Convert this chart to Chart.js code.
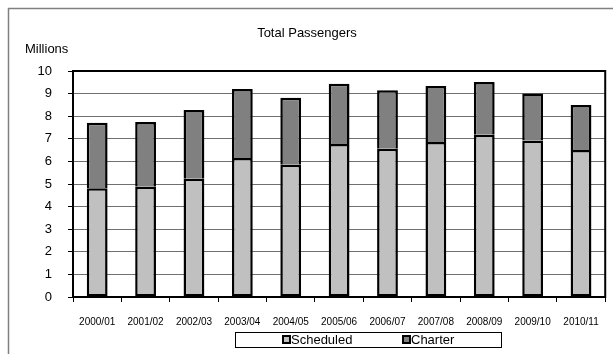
<!DOCTYPE html>
<html>
<head>
<meta charset="utf-8">
<script src="https://cdn.jsdelivr.net/npm/chart.js@4/dist/chart.umd.min.js"></script>
<style>
  html, body { margin: 0; padding: 0; background: #fff; }
  #wrap { position: relative; width: 613px; height: 354px; overflow: hidden; }
  #legend {
    position: absolute; left: 235px; top: 332px; width: 265px; height: 14px;
    border: 1px solid #000; box-sizing: content-box;
    font: 13px "Liberation Sans", Arial, sans-serif; color: #000;
  }
  #legend span.item { position: absolute; top: -1px; line-height: 15px; }
  #legend span.box {
    display: inline-block; width: 5px; height: 5px; border: 2px solid #000;
    vertical-align: 0px; margin-right: 0px;
  }
</style>
</head>
<body>
<div id="wrap">
  <canvas id="myChart" width="613" height="354"></canvas>
  <div id="legend"></div>
</div>
<script>
const labels = ['2000/01', '2001/02', '2002/03', '2003/04', '2004/05', '2005/06',
                '2006/07', '2007/08', '2008/09', '2009/10', '2010/11'];
const scheduled = [4.81, 4.88, 5.23, 6.15, 5.85, 6.77, 6.56, 6.86, 7.18, 6.92, 6.50];
const charter = [2.90, 2.86, 3.04, 3.05, 2.97, 2.67, 2.59, 2.48, 2.33, 2.08, 2.00];

Chart.defaults.font.family = '"Liberation Sans", Arial, sans-serif';
Chart.defaults.color = '#000';

// outer frame, plot border and the two titles
const frame = {
  id: 'frame',
  beforeDraw(chart) {
    const ctx = chart.ctx;
    ctx.save();
    ctx.strokeStyle = '#808080';
    ctx.lineWidth = 1.5;
    ctx.strokeRect(8.5, 8.5, 640, 400);
    ctx.fillStyle = '#000';
    ctx.font = '13px "Liberation Sans", Arial, sans-serif';
    ctx.textAlign = 'center';
    ctx.textBaseline = 'alphabetic';
    ctx.fillText('Total Passengers', 307, 37);
    ctx.textAlign = 'left';
    ctx.fillText('Millions', 25, 53);
    ctx.restore();
  },
  afterDatasetsDraw(chart) {
    const a = chart.chartArea;
    const ctx = chart.ctx;
    ctx.save();
    ctx.strokeStyle = '#000';
    ctx.lineWidth = 2;
    ctx.strokeRect(a.left, a.top, a.right - a.left, a.bottom - a.top);
    ctx.restore();
  }
};

const ctx = document.getElementById('myChart').getContext('2d');
const chart = new Chart(ctx, {
  type: 'bar',
  data: {
    labels,
    datasets: [
      { label: 'Scheduled', data: scheduled, backgroundColor: '#c0c0c0',
        borderColor: '#000', borderWidth: 2.5, borderSkipped: false },
      { label: 'Charter', data: charter, backgroundColor: '#808080',
        borderColor: '#000', borderWidth: 2.5, borderSkipped: 'start' }
    ]
  },
  options: {
    responsive: false,
    animation: false,
    layout: { padding: { top: 71, right: 6, left: 0, bottom: 0 } },
    plugins: {
      legend: { display: false },
      tooltip: { enabled: false }
    },
    datasets: { bar: { categoryPercentage: 1, barPercentage: 0.43 } },
    scales: {
      x: {
        stacked: true,
        afterFit: s => { s.height = 57; },
        grid: { drawOnChartArea: false, drawTicks: true, tickLength: 5, tickColor: '#000', offset: true },
        border: { display: false },
        ticks: { font: { size: 10 }, padding: 14, maxRotation: 0, autoSkip: false }
      },
      y: {
        stacked: true,
        min: 0,
        max: 10,
        afterFit: s => { s.width = 73; },
        grid: { color: '#707070', lineWidth: 1, tickLength: 5, tickColor: '#000' },
        border: { display: false },
        ticks: { stepSize: 1, font: { size: 13 }, padding: 16 }
      }
    }
  },
  plugins: [frame]
});

// legend built from the datasets
const legend = document.getElementById('legend');
const pos = [46, 166];
chart.data.datasets.forEach((d, i) => {
  const item = document.createElement('span');
  item.className = 'item';
  item.style.left = pos[i] + 'px';
  const box = document.createElement('span');
  box.className = 'box';
  box.style.background = d.backgroundColor;
  item.appendChild(box);
  item.appendChild(document.createTextNode(d.label));
  legend.appendChild(item);
});
</script>
</body>
</html>
